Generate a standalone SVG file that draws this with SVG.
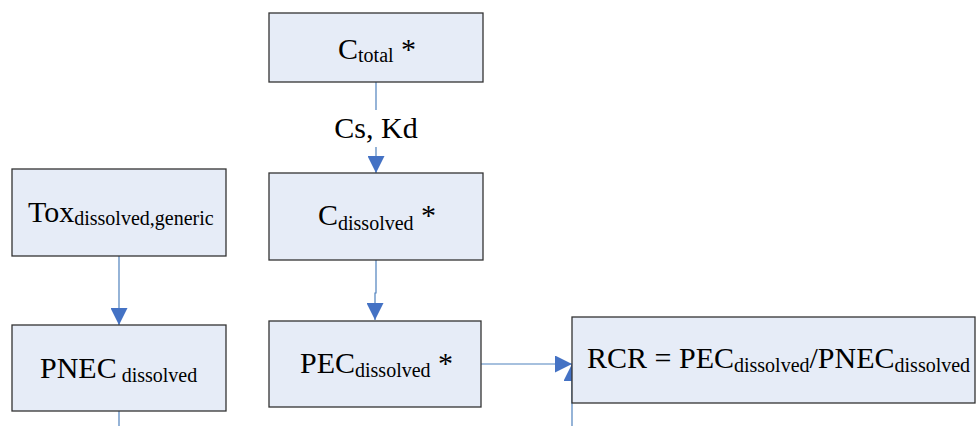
<svg xmlns="http://www.w3.org/2000/svg" width="976" height="426" viewBox="0 0 976 426">
<style>
.box{fill:#e6ecf7;stroke:#333;stroke-width:1.3}
.t{font-family:"Liberation Serif","Times New Roman",serif;font-size:30px;fill:#000}
.s{font-size:20px}
.c{fill:none;stroke:#4f81bd;stroke-width:1.2}
</style>
<defs>
<marker id="ah" viewBox="0 0 17 17" markerWidth="17" markerHeight="17" markerUnits="userSpaceOnUse" refX="17" refY="8.5" orient="auto">
<path d="M0,0 L17,8.5 L0,17 z" fill="#4472c4"/>
</marker>
</defs>
<rect width="976" height="426" fill="#fff"/>
<g id="connectors">
<line class="c" x1="376" y1="82" x2="376" y2="110"/>
<line class="c" x1="376" y1="147" x2="376" y2="173" marker-end="url(#ah)"/>
<text class="t" x="376" y="138" text-anchor="middle">Cs, Kd</text>
<path class="c" d="M376,260 V293 H375 V320" marker-end="url(#ah)"/>
<line class="c" x1="119" y1="256" x2="119" y2="325" marker-end="url(#ah)"/>
<line class="c" x1="119" y1="411" x2="119" y2="426"/>
<line class="c" x1="481" y1="364" x2="572" y2="364" marker-end="url(#ah)"/>
<line class="c" x1="572" y1="426" x2="572" y2="364" marker-end="url(#ah)"/>
</g>
<g id="ctotal">
<rect class="box" x="269" y="13" width="214" height="69"/>
<text class="t" x="338" y="59">C<tspan class="s" dy="3">total</tspan><tspan dy="-3"> *</tspan></text>
</g>
<g id="tox">
<rect class="box" x="12" y="169" width="214" height="87"/>
<text class="t" x="28" y="222">Tox<tspan class="s" dy="3">dissolved,generic</tspan></text>
</g>
<g id="cdissolved">
<rect class="box" x="269" y="173" width="214" height="87"/>
<text class="t" x="318" y="225">C<tspan class="s" dy="5">dissolved</tspan><tspan dy="-5"> *</tspan></text>
</g>
<g id="pnec">
<rect class="box" x="12" y="325" width="214" height="86"/>
<text class="t" x="40" y="378">PNEC<tspan class="s" dy="4"> dissolved</tspan></text>
</g>
<g id="pec">
<rect class="box" x="269" y="321" width="212" height="86"/>
<text class="t" x="300" y="373">PEC<tspan class="s" dy="4">dissolved</tspan><tspan dy="-4"> *</tspan></text>
</g>
<g id="rcr">
<rect class="box" x="572" y="317" width="403" height="86"/>
<text class="t" x="587" y="368">RCR = PEC<tspan class="s" dy="4">dissolved</tspan><tspan dy="-4">/PNEC</tspan><tspan class="s" dy="4">dissolved</tspan></text>
</g>
</svg>
